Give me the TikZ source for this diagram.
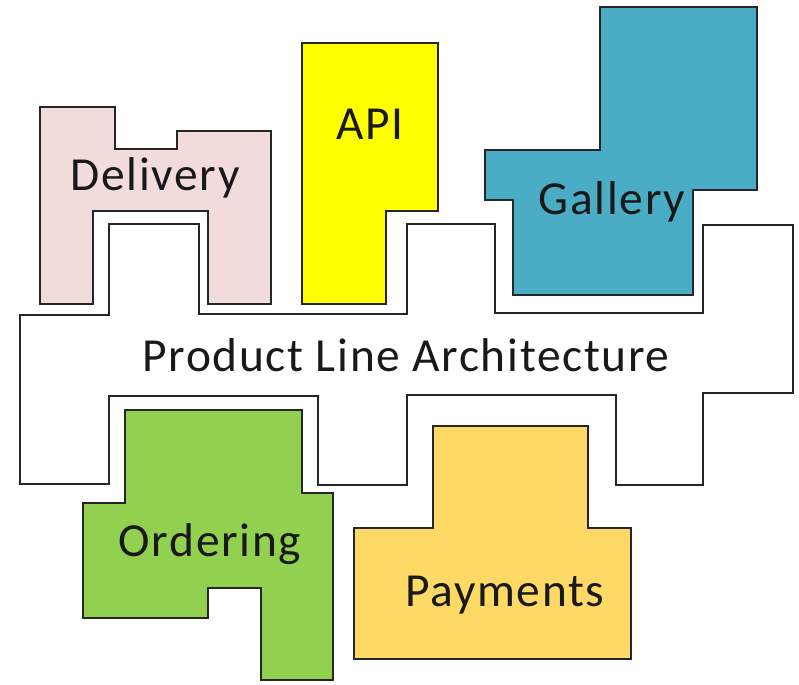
\documentclass[tikz,border=0pt]{standalone}
\usepackage{fontspec}
\setmainfont[LetterSpace=3.5]{Carlito}
\definecolor{deliverypink}{HTML}{F2DCDB}
\definecolor{apiyellow}{HTML}{FFFF00}
\definecolor{galleryblue}{HTML}{4BACC6}
\definecolor{orderinggreen}{HTML}{92D050}
\definecolor{paymentsgold}{HTML}{FFD966}
\begin{document}
\begin{tikzpicture}[x=0.02cm,y=-0.02cm]
        		\tikzstyle{piece}=[draw=black!85,line width=1.2pt,line join=miter]
        		\tikzstyle{label}=[inner sep=0pt,text=black!90,font=\fontsize{27}{32}\selectfont]
        		\useasboundingbox (0,0) rectangle (799,684);
       			\begin{scope}
        			% the platform in the middle
        			\draw [piece,fill=white] (20,315) -- (109,315) -- (109,224) -- (199,224) -- (199,314) -- (407,314) -- (407,224) -- (495,224) -- (495,313) -- (703,313) -- (703,225) -- (793,225) -- (793,393) -- (703,393) -- (703,485) -- (616,485) -- (616,395) -- (407,395) -- (407,485) -- (318,485) -- (318,396) -- (109,396) -- (109,484) -- (20,484) -- cycle;
        			% pieces on top
        			\draw [piece,fill=deliverypink] (40,107) -- (115,107) -- (115,149) -- (177,149) -- (177,131) -- (271,131) -- (271,304) -- (208,304) -- (208,211) -- (93,211) -- (93,304) -- (40,304) -- cycle;
        			\draw [piece,fill=apiyellow] (302,43) -- (438,43) -- (438,211) -- (386,211) -- (386,304) -- (302,304) -- cycle;
        			\draw [piece,fill=galleryblue] (600,7) -- (757,7) -- (757,190) -- (693,190) -- (693,295) -- (513,295) -- (513,200) -- (485,200) -- (485,150) -- (600,150) -- cycle;
        			% pieces below
        			\draw [piece,fill=orderinggreen] (125,410) -- (302,410) -- (302,493) -- (333,493) -- (333,680) -- (261,680) -- (261,588) -- (208,588) -- (208,618) -- (83,618) -- (83,503) -- (125,503) -- cycle;
        			\draw [piece,fill=paymentsgold] (433,426) -- (588,426) -- (588,528) -- (631,528) -- (631,659) -- (354,659) -- (354,528) -- (433,528) -- cycle;
        			\node [label] (pla) at (406,355) {Product Line Architecture};
        			\node [label] (delivery) at (155,178) {Delivery};
        			\node [label] (api) at (370,124) {API};
        			\node [label] (gallery) at (612,202) {Gallery};
        			\node [label] (ordering) at (210,544) {Ordering};
        			\node [label] (payments) at (505,595) {Payments};
        		\end{scope}
      		\end{tikzpicture}
\end{document}
